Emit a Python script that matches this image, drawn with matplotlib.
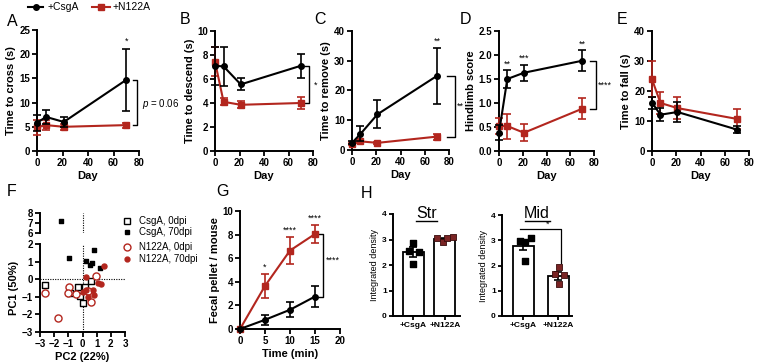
import matplotlib
matplotlib.use("Agg")
import matplotlib.pyplot as plt
from matplotlib.lines import Line2D
import numpy as np

plt.rcParams['font.family'] = ['Liberation Sans', 'DejaVu Sans']
plt.rcParams['mathtext.fontset'] = 'custom'
plt.rcParams['mathtext.it'] = 'Liberation Sans:italic'
plt.rcParams['mathtext.rm'] = 'Liberation Sans'

W, H = 758, 363
DPI = 100
fig = plt.figure(figsize=(W / DPI, H / DPI), dpi=DPI)

BLACK = '#000000'
RED = '#b3261e'
DARKRED = '#7a2424'

# ---------------- data ----------------
days = [0, 7, 21, 70]

cross_csga = [5.8, 7.05, 6.0, 14.7]
cross_csga_err = [1.6, 1.5, 1.1, 6.4]
cross_n122a = [4.9, 5.35, 5.0, 5.35]
cross_n122a_err = [1.5, 1.0, 0.6, 0.5]

descend_csga = [7.1, 7.05, 5.55, 7.1]
descend_csga_err = [1.6, 1.6, 0.5, 1.0]
descend_n122a = [7.45, 4.1, 3.85, 4.0]
descend_n122a_err = [1.2, 0.3, 0.3, 0.5]

remove_csga = [2.4, 5.4, 12.0, 24.9]
remove_csga_err = [0.5, 2.5, 4.7, 9.4]
remove_n122a = [2.1, 2.9, 2.4, 4.5]
remove_n122a_err = [0.4, 0.6, 0.3, 1.0]

hindlimb_csga = [0.38, 1.5, 1.63, 1.88]
hindlimb_csga_err = [0.16, 0.18, 0.17, 0.22]
hindlimb_n122a = [0.52, 0.52, 0.38, 0.88]
hindlimb_n122a_err = [0.17, 0.26, 0.18, 0.22]

fall_csga = [16.1, 12.1, 13.0, 7.15]
fall_csga_err = [2.0, 2.2, 3.2, 1.2]
fall_n122a = [23.9, 16.0, 14.3, 10.7]
fall_n122a_err = [6.0, 3.6, 3.7, 3.3]

# PCA (PC2 on x, PC1 on y)
pca_csga_0_x = [-2.63, -0.87, -0.34, -0.21, 0.16, 0.0, 0.57]
pca_csga_0_y = [-0.31, -0.80, -0.42, -0.95, -0.46, -1.34, -0.10]
pca_csga_70_x = [-1.49, -0.98, 0.23, 0.50, 0.66, 0.80, 1.26]
pca_csga_70_y = [7.25, 1.20, 1.05, 0.82, 0.92, 1.64, 0.61]
pca_n122a_0_x = [-2.63, -1.74, -0.98, -1.03, -0.46, 0.96, 0.62, 0.39]
pca_n122a_0_y = [-0.80, -2.19, -0.42, -0.76, -0.84, 0.21, -1.28, -0.67]
pca_n122a_70_x = [0.23, 1.53, 1.12, 1.30, 0.27, 0.73, 0.80, 0.39, 0.05]
pca_n122a_70_y = [0.15, 0.73, -0.19, -0.27, -0.61, -0.61, -0.90, -1.03, -0.71]

# Fecal pellets
minutes = [0, 5, 10, 15]
pellet_csga = [0.0, 0.78, 1.63, 2.75]
pellet_csga_err = [0.0, 0.4, 0.62, 0.9]
pellet_n122a = [0.0, 3.65, 6.65, 8.05]
pellet_n122a_err = [0.0, 1.0, 1.15, 0.75]

# Integrated density
bar_groups = ['+CsgA', '+N122A']
str_means = [2.5, 3.02]
str_sem = [0.19, 0.05]
str_csga_pts = [2.88, 2.56, 2.52, 2.04]
str_n122a_pts = [3.07, 2.89, 3.05, 3.11]
mid_means = [2.77, 1.6]
mid_sem = [0.17, 0.16]
mid_csga_pts = [2.98, 2.94, 3.10, 2.19]
mid_n122a_pts = [1.93, 1.66, 1.62, 1.25]

# ---------------- helpers ----------------
def px_axes(l, t, r, b):
    return fig.add_axes([l / W, 1 - b / H, (r - l) / W, (b - t) / H])

def style(ax, tick_fs=7):
    for s in ['top', 'right']:
        ax.spines[s].set_visible(False)
    for s in ['left', 'bottom']:
        ax.spines[s].set_linewidth(1.4)
    ax.tick_params(width=1.3, length=3.5, labelsize=tick_fs, pad=1.5)
    for lab in ax.get_xticklabels() + ax.get_yticklabels():
        lab.set_fontweight('bold')

def line_panel(ax, x, c, ce, n, ne):
    ax.errorbar(x, n, yerr=ne, color=RED, marker='s', markersize=4.5, lw=1.5,
                capsize=2.8, capthick=1.2, elinewidth=1.2, clip_on=False, zorder=3)
    ax.errorbar(x, c, yerr=ce, color=BLACK, marker='o', markersize=4, lw=1.5,
                capsize=2.8, capthick=1.2, elinewidth=1.2, clip_on=False, zorder=4)

def bracket(ax, x0, x1, ytop, ybot):
    ax.plot([x0, x1, x1, x0], [ytop, ytop, ybot, ybot], color='black', lw=1.0,
            clip_on=False)

def star(ax, x, y, s, **kw):
    ax.text(x, y, s, ha='center', va='center', fontsize=6.5, clip_on=False, **kw)

def letter(x, y, s):
    fig.text(x / W, 1 - y / H, s, fontsize=11.5, ha='center', va='center')

LABFS = 8

# ---------------- A ----------------
axA = px_axes(37, 30, 139, 151)
line_panel(axA, days, cross_csga, cross_csga_err, cross_n122a, cross_n122a_err)
axA.set_xlim(0, 80); axA.set_ylim(0, 25)
axA.set_xticks([0, 20, 40, 60, 80]); axA.set_yticks([0, 5, 10, 15, 20, 25])
axA.set_xlabel('Day', fontsize=LABFS, fontweight='bold', labelpad=2)
axA.set_ylabel('Time to cross (s)', fontsize=LABFS, fontweight='bold', labelpad=2)
style(axA)
star(axA, 70, cross_csga[3] + cross_csga_err[3] + 1.6, '*')
bracket(axA, 75, 78.2, cross_csga[3], cross_n122a[3])
axA.text(82, 9.8, r'$p$ = 0.06', fontsize=7, ha='left', va='center', clip_on=False)

# ---------------- B ----------------
axB = px_axes(215, 31, 313, 151)
line_panel(axB, days, descend_csga, descend_csga_err, descend_n122a, descend_n122a_err)
axB.set_xlim(0, 80); axB.set_ylim(0, 10)
axB.set_xticks([0, 20, 40, 60, 80]); axB.set_yticks([0, 2, 4, 6, 8, 10])
axB.set_xlabel('Day', fontsize=LABFS, fontweight='bold', labelpad=2)
axB.set_ylabel('Time to descend (s)', fontsize=LABFS, fontweight='bold', labelpad=2)
style(axB)
bracket(axB, 73.5, 76.7, descend_csga[3], descend_n122a[3])
star(axB, 82, 5.5, '*')

# ---------------- C ----------------
axC = px_axes(352, 31, 449, 150)
line_panel(axC, days, remove_csga, remove_csga_err, remove_n122a, remove_n122a_err)
axC.set_xlim(0, 80); axC.set_ylim(0, 40)
axC.set_xticks([0, 20, 40, 60, 80]); axC.set_yticks([0, 10, 20, 30, 40])
axC.set_xlabel('Day', fontsize=LABFS, fontweight='bold', labelpad=2)
axC.set_ylabel('Time to remove (s)', fontsize=LABFS, fontweight='bold', labelpad=2)
style(axC)
star(axC, 70, remove_csga[3] + remove_csga_err[3] + 2.4, '**')
bracket(axC, 78, 85, remove_csga[3], remove_n122a[3])
star(axC, 89.5, 14.8, '**')

# ---------------- D ----------------
axD = px_axes(499, 31, 594, 151)
line_panel(axD, days, hindlimb_csga, hindlimb_csga_err, hindlimb_n122a, hindlimb_n122a_err)
axD.set_xlim(0, 80); axD.set_ylim(0, 2.5)
axD.set_xticks([0, 20, 40, 60, 80]); axD.set_yticks([0, 0.5, 1.0, 1.5, 2.0, 2.5])
axD.set_yticklabels(['0.0', '0.5', '1.0', '1.5', '2.0', '2.5'])
axD.set_xlabel('Day', fontsize=LABFS, fontweight='bold', labelpad=2)
axD.set_ylabel('Hindlimb score', fontsize=LABFS, fontweight='bold', labelpad=2)
style(axD)
for i, s in [(1, '**'), (2, '***'), (3, '**')]:
    star(axD, days[i], hindlimb_csga[i] + hindlimb_csga_err[i] + 0.13, s)
bracket(axD, 76.6, 81.4, hindlimb_csga[3], hindlimb_n122a[3])
star(axD, 89, 1.375, '****')

# ---------------- E ----------------
axE = px_axes(652, 31, 749, 151)
line_panel(axE, days, fall_csga, fall_csga_err, fall_n122a, fall_n122a_err)
axE.set_xlim(0, 80); axE.set_ylim(0, 40)
axE.set_xticks([0, 20, 40, 60, 80]); axE.set_yticks([0, 10, 20, 30, 40])
axE.set_xlabel('Day', fontsize=LABFS, fontweight='bold', labelpad=2)
axE.set_ylabel('Time to fall (s)', fontsize=LABFS, fontweight='bold', labelpad=2)
style(axE)

# ---------------- top legend ----------------
fig.add_artist(Line2D([28 / W, 43 / W], [1 - 7 / H, 1 - 7 / H], color=BLACK, lw=1.5,
                      transform=fig.transFigure))
fig.add_artist(Line2D([35.5 / W], [1 - 7 / H], color=BLACK, marker='o', markersize=4,
                      transform=fig.transFigure))
fig.text(48 / W, 1 - 7 / H, '+CsgA', fontsize=7.5, va='center', ha='left')
fig.add_artist(Line2D([92 / W, 110 / W], [1 - 7 / H, 1 - 7 / H], color=RED, lw=1.5,
                      transform=fig.transFigure))
fig.add_artist(Line2D([101 / W], [1 - 7 / H], color=RED, marker='s', markersize=4.5,
                      transform=fig.transFigure))
fig.text(113 / W, 1 - 7 / H, '+N122A', fontsize=7.5, va='center', ha='left')

# ---------------- F ----------------
axF = px_axes(40, 244, 125, 332)
axFt = px_axes(40, 213, 125, 233)
for ax in (axF, axFt):
    ax.axvline(0, color='black', lw=0.8, ls=(0, (1, 1.2)), zorder=0)
    ax.scatter(pca_csga_0_x, pca_csga_0_y, marker='s', s=24, facecolors='white',
               edgecolors=BLACK, linewidths=1.0, zorder=3)
    ax.scatter(pca_csga_70_x, pca_csga_70_y, marker='s', s=10, color=BLACK, zorder=3)
    ax.scatter(pca_n122a_0_x, pca_n122a_0_y, marker='o', s=26, facecolors='white',
               edgecolors=RED, linewidths=1.0, zorder=3)
    ax.scatter(pca_n122a_70_x, pca_n122a_70_y, marker='o', s=13, color=RED, zorder=3)
    ax.set_xlim(-3, 3)
axF.axhline(0, color='black', lw=0.8, ls=(0, (1, 1.2)), zorder=0)
axF.set_ylim(-3, 2)
axFt.set_ylim(6, 8)
axF.set_xticks([-3, -2, -1, 0, 1, 2, 3])
axF.set_yticks([-3, -2, -1, 0, 1, 2])
axFt.set_yticks([6, 7, 8])
axFt.set_xticks([])
style(axF)
style(axFt)
axFt.spines['bottom'].set_visible(False)
axF.set_xlabel('PC2 (22%)', fontsize=LABFS, fontweight='bold', labelpad=2)
axF.set_ylabel('PC1 (50%)', fontsize=LABFS, fontweight='bold', labelpad=2)

# F legend
leg_rows = [221, 232, 247, 259]
leg_txt = ['CsgA, 0dpi', 'CsgA, 70dpi', 'N122A, 0dpi', 'N122A, 70dpi']
leg_kw = [dict(marker='s', markersize=5, mfc='white', mec=BLACK, mew=1.0),
          dict(marker='s', markersize=3, mfc=BLACK, mec=BLACK),
          dict(marker='o', markersize=5, mfc='white', mec=RED, mew=1.0),
          dict(marker='o', markersize=3.5, mfc=RED, mec=RED)]
for y, t, kw in zip(leg_rows, leg_txt, leg_kw):
    fig.add_artist(Line2D([127 / W], [1 - y / H], ls='none', transform=fig.transFigure, **kw))
    fig.text(139 / W, 1 - y / H, t, fontsize=7, va='center', ha='left')

# ---------------- G ----------------
axG = px_axes(240, 211, 340, 329)
line_panel(axG, minutes, pellet_csga, pellet_csga_err, pellet_n122a, pellet_n122a_err)
axG.set_xlim(0, 20); axG.set_ylim(0, 10)
axG.set_xticks([0, 5, 10, 15, 20]); axG.set_yticks([0, 2, 4, 6, 8, 10])
axG.set_xlabel('Time (min)', fontsize=LABFS, fontweight='bold', labelpad=2)
axG.set_ylabel('Fecal pellet / mouse', fontsize=LABFS, fontweight='bold', labelpad=2)
style(axG)
for i, s in [(1, '*'), (2, '****'), (3, '****')]:
    star(axG, minutes[i], pellet_n122a[i] + pellet_n122a_err[i] + 0.55, s)
bracket(axG, 15.8, 16.6, pellet_n122a[3], pellet_csga[3])
star(axG, 18.6, 5.85, '****')

# ---------------- H ----------------
def bar_panel(ax, means, sem, pts_a, pts_b, jit_a, jit_b, width):
    x = np.arange(len(means))
    ax.bar(x, means, width=width, color='white', edgecolor='black', linewidth=1.3, zorder=1)
    ax.errorbar(x, means, yerr=sem, fmt='none', ecolor='black', elinewidth=1.2,
                capsize=3, capthick=1.2, zorder=2)
    ax.scatter(np.full(len(pts_a), x[0]) + np.array(jit_a), pts_a, marker='s', s=18,
               color='black', zorder=3)
    ax.scatter(np.full(len(pts_b), x[1]) + np.array(jit_b), pts_b, marker='s', s=18,
               facecolor=DARKRED, edgecolor='#3a0d0d', linewidths=0.6, zorder=3)
    ax.set_xticks(x)
    ax.set_xticklabels(bar_groups)
    ax.set_ylim(0, 4)
    ax.set_yticks([0, 1, 2, 3, 4])
    ax.set_ylabel('Integrated density', fontsize=6.5, labelpad=2)
    style(ax, tick_fs=6)
    ax.tick_params(length=3)

axHs = px_axes(393, 214, 460, 316)
bar_panel(axHs, str_means, str_sem, str_csga_pts, str_n122a_pts,
          [0.0, -0.13, 0.18, -0.03], [-0.24, -0.07, 0.07, 0.26], 0.67)
axHs.set_xlim(-0.65, 1.48)

axHm = px_axes(502, 215, 572, 316)
bar_panel(axHm, mid_means, mid_sem, mid_csga_pts, mid_n122a_pts,
          [-0.1, 0.06, 0.23, 0.06], [0.03, -0.09, 0.17, 0.03], 0.6)
axHm.set_xlim(-0.6, 1.4)
axHm.plot([-0.1, 1.08, 1.08], [3.43, 3.43, 2.08], color='black', lw=0.9, clip_on=False)
star(axHm, 0.69, 3.62, '*')

def utitle(cx, cy, s, wpx):
    fig.text(cx / W, 1 - cy / H, s, fontsize=11.5, ha='center', va='center')
    fig.add_artist(Line2D([(cx - wpx / 2) / W, (cx + wpx / 2) / W],
                          [1 - (cy + 8) / H, 1 - (cy + 8) / H], color='black', lw=1.0,
                          transform=fig.transFigure))

utitle(427, 213, 'Str', 21)
utitle(537, 213, 'Mid', 25)

# ---------------- panel letters ----------------
letter(12, 22, 'A')
letter(185, 20, 'B')
letter(320, 20, 'C')
letter(465, 20, 'D')
letter(622, 20, 'E')
letter(12, 191, 'F')
letter(222, 192, 'G')
letter(366, 193, 'H')

fig.savefig('out.png', dpi=DPI)
